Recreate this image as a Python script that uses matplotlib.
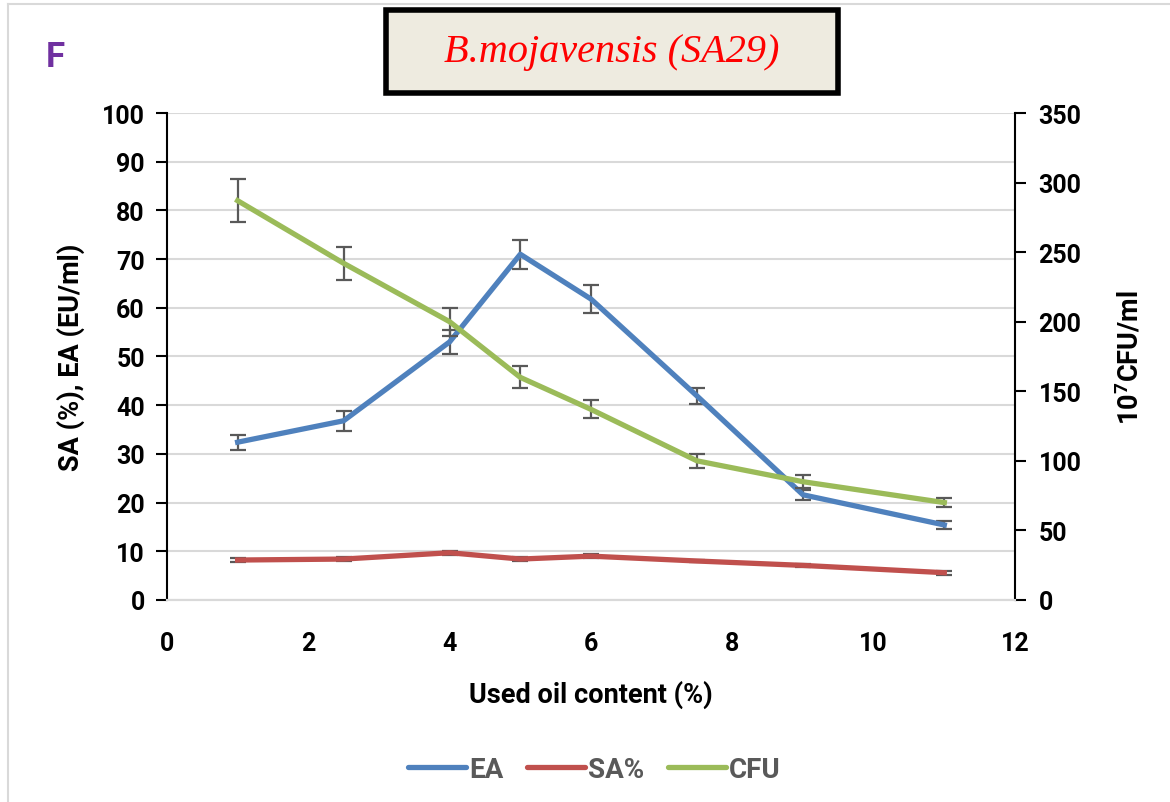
#!/usr/bin/env python3

import matplotlib
matplotlib.use('Agg')
import matplotlib.pyplot as plt
from matplotlib.lines import Line2D
from matplotlib.patches import Rectangle

# data
oil = [1, 2.5, 4, 5, 6, 7.5, 9, 11]
ea = [32.4, 36.8, 53.0, 71.0, 61.8, 41.9, 21.6, 15.4]
ea_err = [1.5, 2.0, 2.5, 3.0, 2.8, 1.6, 1.0, 0.8]
sa = [8.2, 8.4, 9.7, 8.4, 9.0, 8.0, 7.1, 5.6]
sa_err = [0.4, 0.4, 0.4, 0.4, 0.4, 0.3, 0.3, 0.4]
cfu = [287, 242, 200, 160, 137, 100, 85, 70]
cfu_err = [15.5, 12.0, 10.0, 8.0, 6.5, 5.0, 4.5, 3.5]

left_ticks = list(range(0, 101, 10))
right_ticks = list(range(0, 351, 50))
x_ticks = list(range(0, 13, 2))

C_EA = '#4F81BD'
C_SA = '#C0504D'
C_CFU = '#9BBB59'
C_ERR = '#595959'

plt.rcParams['font.family'] = ['Roboto', 'DejaVu Sans']
plt.rcParams['mathtext.fontset'] = 'custom'
plt.rcParams['mathtext.bf'] = 'Roboto:bold'

fig = plt.figure(figsize=(11.7, 8.03), dpi=100)
ax = fig.add_axes([0.1427, 0.2516, 0.7248, 0.6064])
ax2 = ax.twinx()

# light outer frame
fig.add_artist(Line2D([0.007, 0.007], [0, 0.994], transform=fig.transFigure, color='#D9D9D9', lw=1.5))
fig.add_artist(Line2D([0.007, 1], [0.994, 0.994], transform=fig.transFigure, color='#D9D9D9', lw=1.5))

lw = 3.8
ax.errorbar(oil, ea, yerr=ea_err, color=C_EA, lw=lw, ecolor=C_ERR, elinewidth=1.6,
			capsize=6, capthick=1.6, zorder=3)
ax.errorbar(oil, sa, yerr=sa_err, color=C_SA, lw=lw, ecolor=C_ERR, elinewidth=1.6,
			capsize=6, capthick=1.6, zorder=3)
ax2.errorbar(oil, cfu, yerr=cfu_err, color=C_CFU, lw=lw, ecolor=C_ERR, elinewidth=1.6,
			 capsize=6, capthick=1.6, zorder=3)

ax.set_xlim(0, 12)
ax.set_ylim(0, 100)
ax2.set_ylim(0, 350)
ax.set_xticks(x_ticks)
ax.set_yticks(left_ticks)
ax2.set_yticks(right_ticks)
ax.yaxis.grid(True, color='#D9D9D9', lw=1.5)
ax.set_axisbelow(True)

for a in (ax, ax2):
	a.spines['top'].set_visible(False)
	a.spines['bottom'].set_color('#D9D9D9')
	a.spines['bottom'].set_linewidth(1.5)
ax.spines['right'].set_visible(False)
ax2.spines['left'].set_visible(False)
ax.spines['left'].set_linewidth(1.5)
ax2.spines['right'].set_linewidth(1.5)

ax.tick_params(axis='y', length=8, width=1.5, pad=8, labelsize=18)
ax2.tick_params(axis='y', length=8, width=1.5, pad=9, labelsize=18)
ax.tick_params(axis='x', length=0, pad=22, labelsize=18)
for lab in ax.get_xticklabels() + ax.get_yticklabels() + ax2.get_yticklabels():
	lab.set_fontweight('bold')

ax.set_xlabel('Used oil content (%)', fontsize=19.5, fontweight='bold', labelpad=18)
ax.set_ylabel('SA (%), EA (EU/ml)', fontsize=19.5, fontweight='bold', labelpad=12)
ax2.set_ylabel(r'10$^\mathbf{7}$CFU/ml', fontsize=19.5, fontweight='bold', labelpad=24)

# title box
fig.add_artist(Rectangle((0.330, 0.883), 0.386, 0.103, transform=fig.transFigure,
						 facecolor='#EEEBE0', edgecolor='black', lw=4))
fig.text(0.523, 0.934, 'B.mojavensis (SA29)', color='red', fontsize=29, style='italic',
		 family='Liberation Serif', ha='center', va='center')
fig.text(0.047, 0.928, 'F', color='#7030A0', fontsize=25, fontweight='bold', ha='center', va='center')

handles = [Line2D([], [], color=C_EA, lw=lw, solid_capstyle='round'),
		   Line2D([], [], color=C_SA, lw=lw, solid_capstyle='round'),
		   Line2D([], [], color=C_CFU, lw=lw, solid_capstyle='round')]
leg = fig.legend(handles, ['EA', 'SA%', 'CFU'], loc='center', bbox_to_anchor=(0.508, 0.041),
				 ncol=3, frameon=False, handlelength=2.1, handletextpad=0.1, columnspacing=0.85,
				 prop={'size': 20, 'weight': 'bold'})
for t in leg.get_texts():
	t.set_color('#595959')

fig.savefig('out.png', dpi=100)
